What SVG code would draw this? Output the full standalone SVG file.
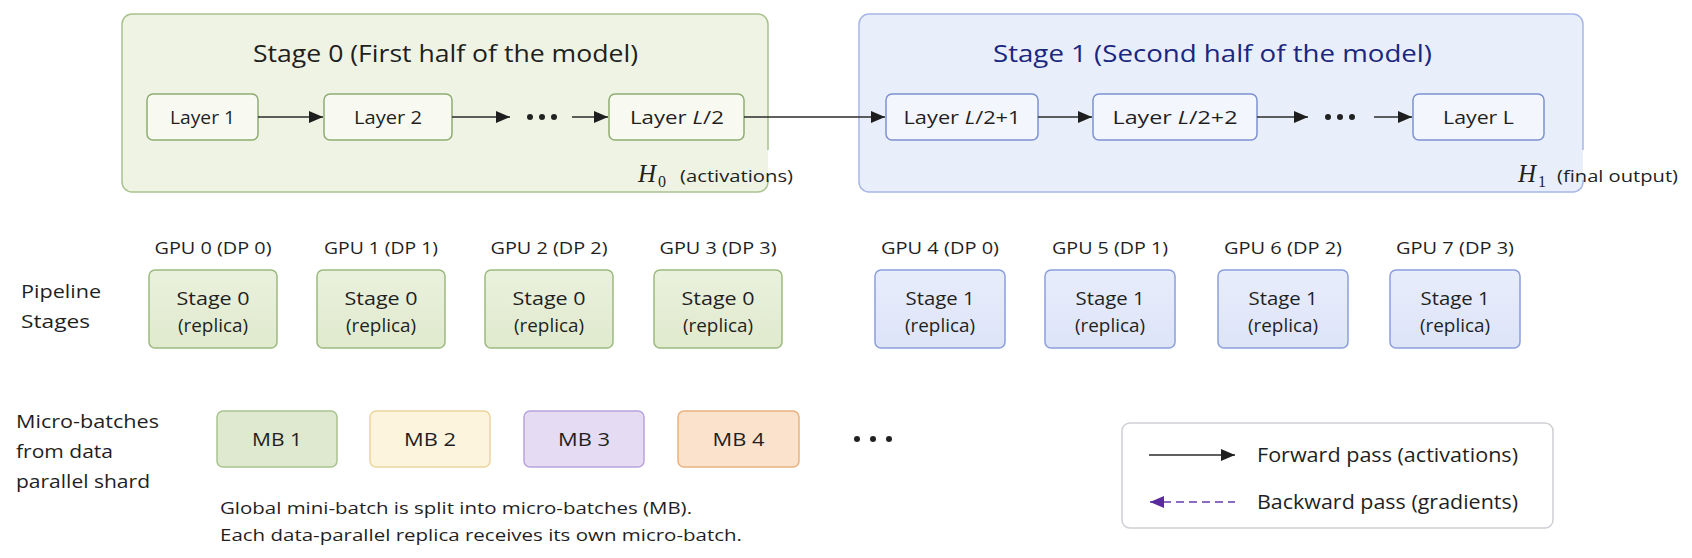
<svg xmlns="http://www.w3.org/2000/svg" width="1692" height="558" viewBox="0 0 1692 558">
  <style>
    text { font-family: "Open Sans", "Noto Sans", sans-serif; fill: #1f1f1f; }
    .title { font-size: 24px; font-weight: 500; }
    .t1 { fill: #19277f; }
    .lay { font-size: 19px; }
    .gpu { font-size: 17px; }
    .rep { font-size: 18px; }
    .side { font-size: 19px; }
    .mb { font-size: 19px; }
    .note { font-size: 17px; }
    .leg { font-size: 20px; }
    .math { font-family: "Liberation Serif", "DejaVu Serif", serif; font-style: italic; font-size: 25px; }
    .sub { font-family: "Liberation Serif", "DejaVu Serif", serif; font-size: 16px; }
    .small { font-size: 17px; }
    .fill0 { fill: #eef3e3; }
    .fill1 { fill: #e9eefb; }
    .edge0 { fill: none; stroke: #a9c28e; stroke-width: 1.5; }
    .edge1 { fill: none; stroke: #a6b6e6; stroke-width: 1.5; }
    .layer0 { fill: #f8faf2; stroke: #8fad73; stroke-width: 1.5; }
    .layer1 { fill: #f4f6fe; stroke: #7c91cf; stroke-width: 1.5; }
    .rep0 { fill: url(#g0); stroke: #9cb980; stroke-width: 1.5; }
    .rep1 { fill: url(#g1); stroke: #8a9edb; stroke-width: 1.5; }
    .fwd { stroke: #2b2b2b; stroke-width: 1.6; fill: none; marker-end: url(#ah); }
    .bwd { stroke: #6a3bb0; stroke-width: 1.6; fill: none; stroke-dasharray: 8 5; marker-start: url(#ahp); }
    .dot { fill: #222; }
  </style>
  <defs>
    <linearGradient id="g0" x1="0" y1="0" x2="0" y2="1">
      <stop offset="0" stop-color="#eaf1dd"/>
      <stop offset="1" stop-color="#e0eacd"/>
    </linearGradient>
    <linearGradient id="g1" x1="0" y1="0" x2="0" y2="1">
      <stop offset="0" stop-color="#e8edfb"/>
      <stop offset="1" stop-color="#dde4f8"/>
    </linearGradient>
    <marker id="ah" markerUnits="userSpaceOnUse" viewBox="0 0 14 12" refX="14" refY="6" markerWidth="14" markerHeight="12" orient="auto">
      <path d="M0,0 L14,6 L0,12 z" fill="#1e1e1e"/>
    </marker>
    <marker id="ahp" markerUnits="userSpaceOnUse" viewBox="0 0 14 12" refX="14" refY="6" markerWidth="14" markerHeight="12" orient="auto-start-reverse">
      <path d="M0,0 L14,6 L0,12 z" fill="#5b2a9e"/>
    </marker>
  </defs>

  <rect x="0" y="0" width="1692" height="558" fill="#ffffff"/>

  <!-- Stage containers -->
  <g id="stage0">
    <rect class="fill0" x="122" y="14" width="646" height="178" rx="10"/>
    <path class="edge0" d="M768,150 L768,24 A10,10 0 0 0 758,14 L132,14 A10,10 0 0 0 122,24 L122,182 A10,10 0 0 0 132,192 L758,192 A10,10 0 0 0 768,182 L768,180"/>
    <text class="title" x="445.5" y="62" text-anchor="middle" textLength="385" lengthAdjust="spacingAndGlyphs">Stage 0 (First half of the model)</text>
    <text x="638" y="182"><tspan class="math">H</tspan><tspan class="sub" x="658" dy="5">0</tspan></text>
    <text class="small" x="680" y="182" textLength="113" lengthAdjust="spacingAndGlyphs">(activations)</text>
  </g>
  <g id="stage1">
    <rect class="fill1" x="859" y="14" width="724" height="178" rx="10"/>
    <path class="edge1" d="M1583,150 L1583,24 A10,10 0 0 0 1573,14 L869,14 A10,10 0 0 0 859,24 L859,182 A10,10 0 0 0 869,192 L1573,192 A10,10 0 0 0 1583,182 L1583,180"/>
    <text class="title t1" x="1212.5" y="62" text-anchor="middle" textLength="439" lengthAdjust="spacingAndGlyphs">Stage 1 (Second half of the model)</text>
    <text x="1518" y="182"><tspan class="math">H</tspan><tspan class="sub" x="1538" dy="5">1</tspan></text>
    <text class="small" x="1557" y="182" textLength="121" lengthAdjust="spacingAndGlyphs">(final output)</text>
  </g>

  <!-- Layers -->
  <g id="layer1">
    <rect class="layer0" x="147" y="94" width="111" height="46" rx="6"/>
    <text class="lay" x="202.5" y="124" text-anchor="middle" textLength="65" lengthAdjust="spacingAndGlyphs">Layer 1</text>
  </g>
  <g id="layer2">
    <rect class="layer0" x="324" y="94" width="128" height="46" rx="6"/>
    <text class="lay" x="388" y="124" text-anchor="middle" textLength="68" lengthAdjust="spacingAndGlyphs">Layer 2</text>
  </g>
  <g id="layerHalf">
    <rect class="layer0" x="609" y="94" width="135" height="46" rx="6"/>
    <text class="lay" x="677" y="124" text-anchor="middle" textLength="94" lengthAdjust="spacingAndGlyphs">Layer <tspan font-style="italic">L</tspan>/2</text>
  </g>
  <g id="layerHalf1">
    <rect class="layer1" x="886" y="94" width="152" height="46" rx="6"/>
    <text class="lay" x="962" y="124" text-anchor="middle" textLength="117" lengthAdjust="spacingAndGlyphs">Layer <tspan font-style="italic">L</tspan>/2+1</text>
  </g>
  <g id="layerHalf2">
    <rect class="layer1" x="1093" y="94" width="164" height="46" rx="6"/>
    <text class="lay" x="1175" y="124" text-anchor="middle" textLength="125" lengthAdjust="spacingAndGlyphs">Layer <tspan font-style="italic">L</tspan>/2+2</text>
  </g>
  <g id="layerL">
    <rect class="layer1" x="1413" y="94" width="131" height="46" rx="6"/>
    <text class="lay" x="1478.5" y="124" text-anchor="middle" textLength="71" lengthAdjust="spacingAndGlyphs">Layer L</text>
  </g>
  <g id="dotsTop">
    <circle class="dot" cx="530" cy="117" r="3"/>
    <circle class="dot" cx="542" cy="117" r="3"/>
    <circle class="dot" cx="554" cy="117" r="3"/>
    <circle class="dot" cx="1328" cy="117" r="3"/>
    <circle class="dot" cx="1340" cy="117" r="3"/>
    <circle class="dot" cx="1352" cy="117" r="3"/>
  </g>

  <!-- Connectors -->
  <g id="connectors">
    <line class="fwd" x1="258" y1="117" x2="323" y2="117"/>
    <line class="fwd" x1="452" y1="117" x2="510" y2="117"/>
    <line class="fwd" x1="572" y1="117" x2="608" y2="117"/>
    <line class="fwd" x1="744" y1="117" x2="885" y2="117"/>
    <line class="fwd" x1="1038" y1="117" x2="1092" y2="117"/>
    <line class="fwd" x1="1257" y1="117" x2="1308" y2="117"/>
    <line class="fwd" x1="1374" y1="117" x2="1412" y2="117"/>
  </g>

  <!-- Pipeline stages row -->
  <g id="pipelineLabel">
    <text class="side" x="21" y="298" textLength="80" lengthAdjust="spacingAndGlyphs">Pipeline</text>
    <text class="side" x="21" y="328" textLength="69" lengthAdjust="spacingAndGlyphs">Stages</text>
  </g>
  <g id="gpu0">
    <text class="gpu" x="213" y="254" text-anchor="middle" textLength="117" lengthAdjust="spacingAndGlyphs">GPU 0 (DP 0)</text>
    <rect class="rep0" x="149" y="270" width="128" height="78" rx="6"/>
    <text class="rep" x="213" y="305" text-anchor="middle" textLength="73" lengthAdjust="spacingAndGlyphs">Stage 0</text>
    <text class="rep" x="213" y="332" text-anchor="middle" textLength="70" lengthAdjust="spacingAndGlyphs">(replica)</text>
  </g>
  <g id="gpu1">
    <text class="gpu" x="381" y="254" text-anchor="middle" textLength="114" lengthAdjust="spacingAndGlyphs">GPU 1 (DP 1)</text>
    <rect class="rep0" x="317" y="270" width="128" height="78" rx="6"/>
    <text class="rep" x="381" y="305" text-anchor="middle" textLength="73" lengthAdjust="spacingAndGlyphs">Stage 0</text>
    <text class="rep" x="381" y="332" text-anchor="middle" textLength="70" lengthAdjust="spacingAndGlyphs">(replica)</text>
  </g>
  <g id="gpu2">
    <text class="gpu" x="549" y="254" text-anchor="middle" textLength="117" lengthAdjust="spacingAndGlyphs">GPU 2 (DP 2)</text>
    <rect class="rep0" x="485" y="270" width="128" height="78" rx="6"/>
    <text class="rep" x="549" y="305" text-anchor="middle" textLength="73" lengthAdjust="spacingAndGlyphs">Stage 0</text>
    <text class="rep" x="549" y="332" text-anchor="middle" textLength="70" lengthAdjust="spacingAndGlyphs">(replica)</text>
  </g>
  <g id="gpu3">
    <text class="gpu" x="718" y="254" text-anchor="middle" textLength="117" lengthAdjust="spacingAndGlyphs">GPU 3 (DP 3)</text>
    <rect class="rep0" x="654" y="270" width="128" height="78" rx="6"/>
    <text class="rep" x="718" y="305" text-anchor="middle" textLength="73" lengthAdjust="spacingAndGlyphs">Stage 0</text>
    <text class="rep" x="718" y="332" text-anchor="middle" textLength="70" lengthAdjust="spacingAndGlyphs">(replica)</text>
  </g>
  <g id="gpu4">
    <text class="gpu" x="940" y="254" text-anchor="middle" textLength="118" lengthAdjust="spacingAndGlyphs">GPU 4 (DP 0)</text>
    <rect class="rep1" x="875" y="270" width="130" height="78" rx="6"/>
    <text class="rep" x="940" y="305" text-anchor="middle" textLength="69" lengthAdjust="spacingAndGlyphs">Stage 1</text>
    <text class="rep" x="940" y="332" text-anchor="middle" textLength="70" lengthAdjust="spacingAndGlyphs">(replica)</text>
  </g>
  <g id="gpu5">
    <text class="gpu" x="1110" y="254" text-anchor="middle" textLength="116" lengthAdjust="spacingAndGlyphs">GPU 5 (DP 1)</text>
    <rect class="rep1" x="1045" y="270" width="130" height="78" rx="6"/>
    <text class="rep" x="1110" y="305" text-anchor="middle" textLength="69" lengthAdjust="spacingAndGlyphs">Stage 1</text>
    <text class="rep" x="1110" y="332" text-anchor="middle" textLength="70" lengthAdjust="spacingAndGlyphs">(replica)</text>
  </g>
  <g id="gpu6">
    <text class="gpu" x="1283" y="254" text-anchor="middle" textLength="118" lengthAdjust="spacingAndGlyphs">GPU 6 (DP 2)</text>
    <rect class="rep1" x="1218" y="270" width="130" height="78" rx="6"/>
    <text class="rep" x="1283" y="305" text-anchor="middle" textLength="69" lengthAdjust="spacingAndGlyphs">Stage 1</text>
    <text class="rep" x="1283" y="332" text-anchor="middle" textLength="70" lengthAdjust="spacingAndGlyphs">(replica)</text>
  </g>
  <g id="gpu7">
    <text class="gpu" x="1455" y="254" text-anchor="middle" textLength="118" lengthAdjust="spacingAndGlyphs">GPU 7 (DP 3)</text>
    <rect class="rep1" x="1390" y="270" width="130" height="78" rx="6"/>
    <text class="rep" x="1455" y="305" text-anchor="middle" textLength="69" lengthAdjust="spacingAndGlyphs">Stage 1</text>
    <text class="rep" x="1455" y="332" text-anchor="middle" textLength="70" lengthAdjust="spacingAndGlyphs">(replica)</text>
  </g>

  <!-- Micro-batches row -->
  <g id="mbLabel">
    <text class="side" x="16" y="428" textLength="143" lengthAdjust="spacingAndGlyphs">Micro-batches</text>
    <text class="side" x="16" y="458" textLength="97" lengthAdjust="spacingAndGlyphs">from data</text>
    <text class="side" x="16" y="488" textLength="134" lengthAdjust="spacingAndGlyphs">parallel shard</text>
  </g>
  <g id="mb1">
    <rect x="217" y="411" width="120" height="56" rx="6" fill="#dfe9d0" stroke="#a9c48f" stroke-width="1.5"/>
    <text class="mb" x="277" y="446" text-anchor="middle" textLength="50" lengthAdjust="spacingAndGlyphs">MB 1</text>
  </g>
  <g id="mb2">
    <rect x="370" y="411" width="120" height="56" rx="6" fill="#fdf4de" stroke="#ecd59c" stroke-width="1.5"/>
    <text class="mb" x="430" y="446" text-anchor="middle" textLength="52" lengthAdjust="spacingAndGlyphs">MB 2</text>
  </g>
  <g id="mb3">
    <rect x="524" y="411" width="120" height="56" rx="6" fill="#e5dcf3" stroke="#b8a3dc" stroke-width="1.5"/>
    <text class="mb" x="584" y="446" text-anchor="middle" textLength="52" lengthAdjust="spacingAndGlyphs">MB 3</text>
  </g>
  <g id="mb4">
    <rect x="678" y="411" width="121" height="56" rx="6" fill="#fbe2cd" stroke="#e9b27f" stroke-width="1.5"/>
    <text class="mb" x="738.5" y="446" text-anchor="middle" textLength="52" lengthAdjust="spacingAndGlyphs">MB 4</text>
  </g>
  <g id="mbDots">
    <circle class="dot" cx="857" cy="439" r="3"/>
    <circle class="dot" cx="873" cy="439" r="3"/>
    <circle class="dot" cx="889" cy="439" r="3"/>
  </g>
  <g id="mbNote">
    <text class="note" x="220" y="514" textLength="472" lengthAdjust="spacingAndGlyphs">Global mini-batch is split into micro-batches (MB).</text>
    <text class="note" x="220" y="541" textLength="522" lengthAdjust="spacingAndGlyphs">Each data-parallel replica receives its own micro-batch.</text>
  </g>

  <!-- Legend -->
  <g id="legend">
    <rect x="1122" y="423" width="431" height="105" rx="8" fill="#ffffff" stroke="#cfcfd5" stroke-width="1.5"/>
    <line class="fwd" x1="1149" y1="455" x2="1235" y2="455"/>
    <text class="leg" x="1257" y="462" textLength="261" lengthAdjust="spacingAndGlyphs">Forward pass (activations)</text>
    <line class="bwd" x1="1150" y1="502" x2="1235" y2="502"/>
    <text class="leg" x="1257" y="509" textLength="261" lengthAdjust="spacingAndGlyphs">Backward pass (gradients)</text>
  </g>
</svg>
